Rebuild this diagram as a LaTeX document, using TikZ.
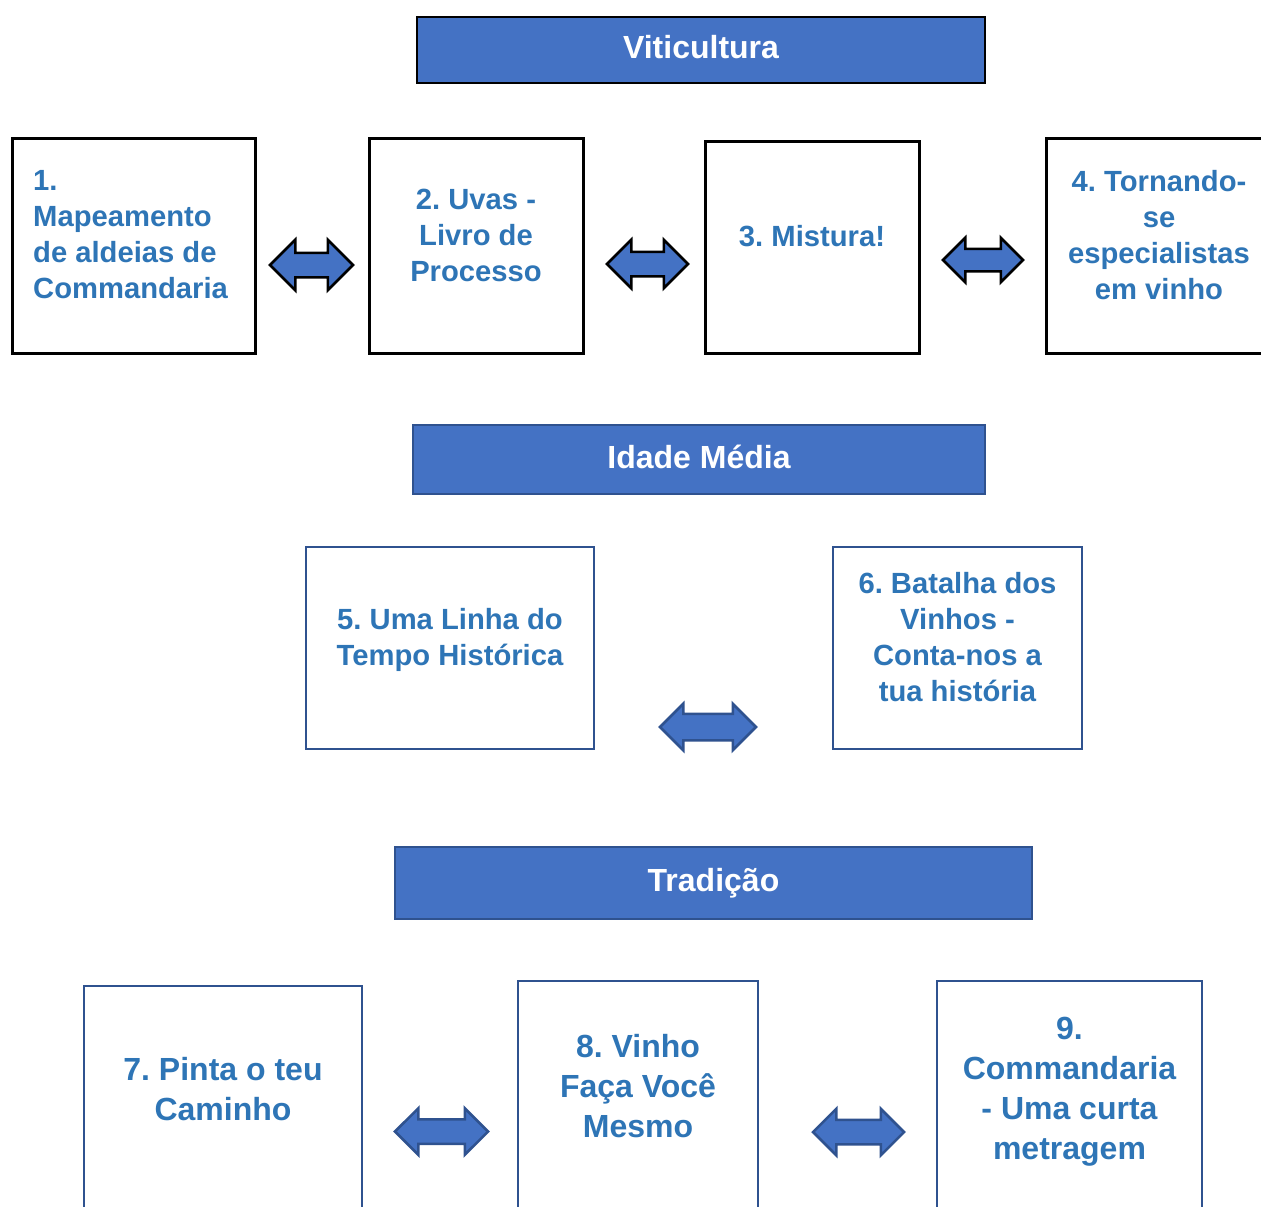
\documentclass[tikz,border=0pt]{standalone}
\usepackage{fontspec}
\setmainfont{Liberation Sans}
\usetikzlibrary{shapes.arrows}
\definecolor{hdrblue}{HTML}{4472C4}
\definecolor{edgeblue}{HTML}{2F528F}
\definecolor{txtblue}{HTML}{2E75B6}
\frenchspacing
\begin{document}
\begin{tikzpicture}[
    x=1pt, y=-1pt,
    header/.style={draw, fill=hdrblue, text=white, line width=2.5pt, inner sep=0pt,
      text height=26pt, text depth=9pt, font=\fontsize{32}{38}\selectfont\bfseries},
    topbox/.style={draw=black, line width=3pt, fill=white, inner sep=0pt},
    bluebox/.style={draw=edgeblue, line width=2.5pt, fill=white, inner sep=0pt},
    boxtext/.style={text=txtblue, align=center, inner sep=0pt,
      font=\fontsize{29.2}{36}\selectfont\bfseries},
    bigtext/.style={boxtext, font=\fontsize{32}{40}\selectfont\bfseries},
    twoway/.style={double arrow, draw, fill=hdrblue, line width=2.5pt, inner sep=0pt,
      double arrow head extend=13pt}
  ]
    \useasboundingbox (0,0) rectangle (1261,1207);

    % Viticultura
    \node[header, draw=black, minimum width=568, minimum height=66] (viti) at (701,50) {Viticultura};
    \node[topbox, minimum width=243, minimum height=215] (mapa) at (133.5,245.5) {};
    \node[topbox, minimum width=214, minimum height=215] (uvas) at (476,245.5) {};
    \node[topbox, minimum width=214, minimum height=212] (mist) at (812,247) {};
    \node[topbox, minimum width=218, minimum height=215] (espec) at (1155,245.5) {};
    \node[boxtext, align=left, anchor=west] (mapatxt) at (33,235)
      {1.\\Mapeamento\\de aldeias de\\Commandaria};
    \node[boxtext] (uvastxt) at (476,235) {2. Uvas -\\Livro de\\Processo};
    \node[boxtext] (misttxt) at (812,236) {3. Mistura!};
    \node[boxtext] (espectxt) at (1159,235) {4. Tornando-\\se\\especialistas\\em vinho};
    \node[twoway, minimum height=83, inner ysep=11, double arrow head extend=13] (a12) at (311.5,265) {};
    \node[twoway, minimum height=81, inner ysep=11, double arrow head extend=12] (a23) at (647.5,264) {};
    \node[twoway, minimum height=80, inner ysep=10, double arrow head extend=11] (a34) at (983,260) {};

    % Idade Media
    \node[header, draw=edgeblue, minimum width=572, minimum height=69] (idade) at (699,459.5) {Idade Média};
    \node[bluebox, minimum width=288, minimum height=202] (linha) at (450,648) {};
    \node[bluebox, minimum width=249, minimum height=202] (batalha) at (957.5,648) {};
    \node[boxtext] (linhatxt) at (450,640) {5. Uma Linha do\\Tempo Histórica};
    \node[boxtext] (batalhatxt) at (957.5,637) {6. Batalha dos\\Vinhos -\\Conta-nos a\\tua história};
    \node[twoway, draw=edgeblue, minimum height=96, inner ysep=12, double arrow head extend=10] (a56) at (708,727) {};

    % Tradicao
    \node[header, draw=edgeblue, minimum width=637, minimum height=72] (trad) at (713.5,883) {Tradição};
    \node[bluebox, minimum width=278, minimum height=240] (pinta) at (223,1106) {};
    \node[bluebox, minimum width=240, minimum height=245] (faca) at (638,1103.5) {};
    \node[bluebox, minimum width=265, minimum height=245] (curta) at (1069.5,1103.5) {};
    \node[bigtext] (pintatxt) at (223,1089) {7. Pinta o teu\\Caminho};
    \node[bigtext] (facatxt) at (638,1086) {8. Vinho\\Faça Você\\Mesmo};
    \node[bigtext] (curtatxt) at (1069.5,1092) {9.\\Commandaria\\- Uma curta\\metragem};
    \node[twoway, draw=edgeblue, minimum height=93, inner ysep=11, double arrow head extend=11] (a78) at (441.5,1131.5) {};
    \node[twoway, draw=edgeblue, minimum height=91, inner ysep=11, double arrow head extend=11] (a89) at (858.5,1132) {};
\end{tikzpicture}
\end{document}
